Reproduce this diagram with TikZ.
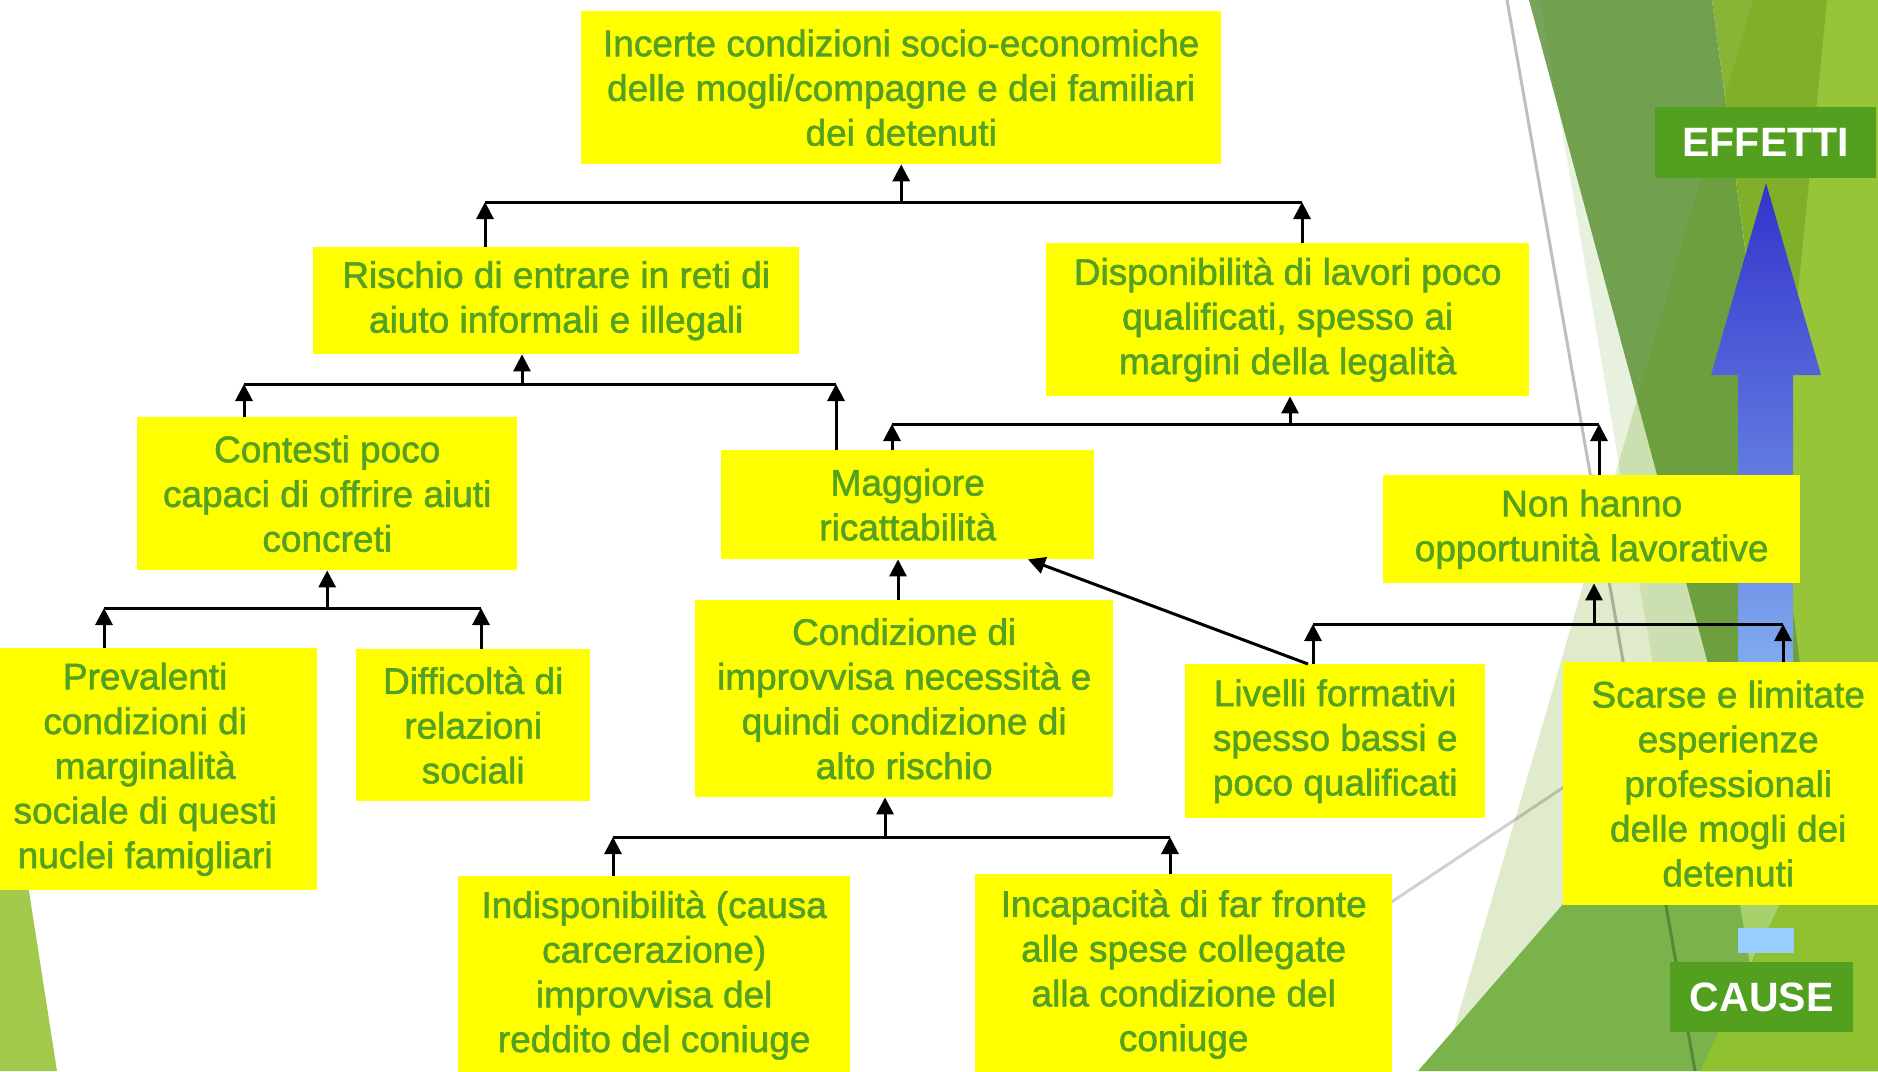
\documentclass[tikz,border=0pt]{standalone}
\usepackage{fontspec}
\setmainfont{Liberation Sans}
\newfontface\boxface{Liberation Sans}[FakeBold=1.5]
\usetikzlibrary{arrows.meta}
\definecolor{boxyellow}{RGB}{255,255,0}
\definecolor{txtgreen}{RGB}{84,160,34}
\definecolor{tagGreen}{RGB}{83,160,33}
\definecolor{mutedG}{RGB}{120,163,90}
\definecolor{oliveG}{RGB}{136,181,53}
\definecolor{lightG}{RGB}{165,207,72}
\definecolor{veilP}{RGB}{100,155,0}
\definecolor{veilQ}{RGB}{70,150,0}
\definecolor{baseG}{RGB}{122,179,75}
\definecolor{brightG}{RGB}{143,192,48}
\definecolor{paleWedge}{RGB}{167,209,106}
\definecolor{leftG}{RGB}{162,201,76}
\definecolor{arrowTop}{RGB}{51,51,204}
\definecolor{arrowBot}{RGB}{128,170,238}
\definecolor{tailBlue}{RGB}{153,204,255}
\tikzset{
  cbox/.style={rectangle, fill=boxyellow, text=txtgreen, align=center,
    inner sep=0pt, anchor=north west,
    font=\boxface\fontsize{37}{44.7}\selectfont},
  tag/.style={rectangle, fill=tagGreen, text=white, inner sep=0pt,
    anchor=north west, font=\fontsize{41}{48}\selectfont\bfseries},
  link/.style={line width=3pt, black},
  uparrow/.style={link, -{Triangle[width=17pt,length=17pt]}}
}
\begin{document}
\begin{tikzpicture}[x=1pt,y=-1pt]
\useasboundingbox (0,0) rectangle (1878,1071);
\fill[white] (0,0) rectangle (1878,1071);

% faceted green background on the right
\fill[lightG] (1827,0) -- (1878,0) -- (1878,1071) -- (1700,1071) -- cycle;
\fill[oliveG] (1712,0) -- (1827,0) -- (1778,494) -- cycle;
\fill[mutedG] (1529,0) -- (1712,0) -- (1832,905) -- (1773,905) -- cycle;
\fill[veilQ, fill opacity=0.13] (1540,0) -- (1712,0) -- (1832,905) -- (1694,905) -- cycle;
\fill[veilP, fill opacity=0.2] (1753,0) -- (1878,0) -- (1878,1071) -- (1442,1071) -- cycle;
\fill[baseG] (1418,1071) -- (1610,850) -- (1878,850) -- (1878,1071) -- cycle;
\fill[brightG] (1700,1071) -- (1792,880) -- (1878,880) -- (1878,1071) -- cycle;
\fill[paleWedge] (1736,880) -- (1792,880) -- (1750,965) -- cycle;
% green facet bottom left
\fill[leftG] (0,705) -- (57,1071) -- (0,1071) -- cycle;
% thin grey rules
\draw[black, opacity=0.25, line width=3pt] (1507,0) -- (1695,1071);
\draw[black, opacity=0.18, line width=3pt] (1300,963) -- (1600,763);

% effects / causes indicator
\shade[top color=arrowTop, bottom color=arrowBot]
  (1766,183) -- (1821,375) -- (1793,375) -- (1793,662) -- (1738,662)
  -- (1738,375) -- (1711,375) -- cycle;
\fill[tailBlue] (1738,928) rectangle (1794,953);
\node[tag, minimum width=221pt, minimum height=71pt] (effetti) at (1655,107) {EFFETTI};
\node[tag, minimum width=183pt, minimum height=70pt] (cause) at (1670,962) {CAUSE};

% boxes
\node[cbox, minimum width=640pt, minimum height=153pt] (incerte) at (581,11)
  {Incerte condizioni socio-economiche\\delle mogli/compagne e dei familiari\\dei detenuti};
\node[cbox, minimum width=486pt, minimum height=107pt] (rischio) at (313,247)
  {Rischio di entrare in reti di\\aiuto informali e illegali};
\node[cbox, minimum width=483pt, minimum height=153pt] (dispon) at (1046,243)
  {Disponibilità di lavori poco\\qualificati, spesso ai\\margini della legalità};
\node[cbox, minimum width=380pt, minimum height=153pt] (contesti) at (137,417)
  {Contesti poco\\capaci di offrire aiuti\\concreti};
\node[cbox, minimum width=373pt, minimum height=109pt] (maggiore) at (721,450)
  {Maggiore\\ricattabilità};
\node[cbox, minimum width=417pt, minimum height=108pt] (nonhanno) at (1383,475)
  {Non hanno\\opportunità lavorative};
\node[cbox, minimum width=344pt, minimum height=242pt] (prevalenti) at (-27,648)
  {Prevalenti\\condizioni di\\marginalità\\sociale di questi\\nuclei famigliari};
\node[cbox, minimum width=234pt, minimum height=152pt] (difficolta) at (356,649)
  {Difficoltà di\\relazioni\\sociali};
\node[cbox, minimum width=418pt, minimum height=197pt] (condizione) at (695,600)
  {Condizione di\\improvvisa necessità e\\quindi condizione di\\alto rischio};
\node[cbox, minimum width=300pt, minimum height=154pt] (livelli) at (1185,664)
  {Livelli formativi\\spesso bassi e\\poco qualificati};
\node[cbox, minimum width=330pt, minimum height=243pt] (scarse) at (1563,662)
  {Scarse e limitate\\esperienze\\professionali\\delle mogli dei\\detenuti};
\node[cbox, minimum width=392pt, minimum height=198pt] (indisp) at (458,876)
  {Indisponibilità (causa\\carcerazione)\\improvvisa del\\reddito del coniuge};
\node[cbox, minimum width=417pt, minimum height=200pt] (incapac) at (975,874)
  {Incapacità di far fronte\\alle spese collegate\\alla condizione del\\coniuge};

% junction points of the connector bars
\coordinate (a1) at (485,202);  \coordinate (a2) at (1302,202);
\coordinate (b1) at (244,384);  \coordinate (b2) at (836,384);  \coordinate (bc) at (522,384);
\coordinate (c1) at (892,424);  \coordinate (c2) at (1599,424); \coordinate (cc) at (1290,424);
\coordinate (d1) at (104,608);  \coordinate (d2) at (481,608);
\coordinate (ex) at (898,0);
\coordinate (f1) at (613,837);  \coordinate (f2) at (1170,837); \coordinate (fc) at (885,837);
\coordinate (g1) at (1313,624); \coordinate (g2) at (1783,624); \coordinate (gc) at (1594,624);
\coordinate (h1) at (1308,0);   \coordinate (h2) at (1028,0);

% into "Incerte condizioni"
\draw[link] (a1) -- (a2);
\draw[uparrow] (rischio.north -| a1) -- (a1);
\draw[uparrow] (dispon.north -| a2) -- (a2);
\draw[uparrow] (incerte.south |- a1) -- (incerte.south);
% into "Rischio"
\draw[link] (b1) -- (b2);
\draw[uparrow] (contesti.north -| b1) -- (b1);
\draw[uparrow] (maggiore.north -| b2) -- (b2);
\draw[uparrow] (bc) -- (bc |- rischio.south);
% into "Disponibilità"
\draw[link] (c1) -- (c2);
\draw[uparrow] (maggiore.north -| c1) -- (c1);
\draw[uparrow] (nonhanno.north -| c2) -- (c2);
\draw[uparrow] (cc) -- (cc |- dispon.south);
% into "Contesti"
\draw[link] (d1) -- (d2);
\draw[uparrow] (prevalenti.north -| d1) -- (d1);
\draw[uparrow] (difficolta.north -| d2) -- (d2);
\draw[uparrow] (contesti.south |- d1) -- (contesti.south);
% into "Maggiore"
\draw[uparrow] (condizione.north -| ex) -- (maggiore.south -| ex);
\draw[uparrow] (livelli.north -| h1) -- (maggiore.south -| h2);
% into "Condizione"
\draw[link] (f1) -- (f2);
\draw[uparrow] (indisp.north -| f1) -- (f1);
\draw[uparrow] (incapac.north -| f2) -- (f2);
\draw[uparrow] (fc) -- (fc |- condizione.south);
% into "Non hanno"
\draw[link] (g1) -- (g2);
\draw[uparrow] (livelli.north -| g1) -- (g1);
\draw[uparrow] (scarse.north -| g2) -- (g2);
\draw[uparrow] (gc) -- (gc |- nonhanno.south);
\end{tikzpicture}
\end{document}
